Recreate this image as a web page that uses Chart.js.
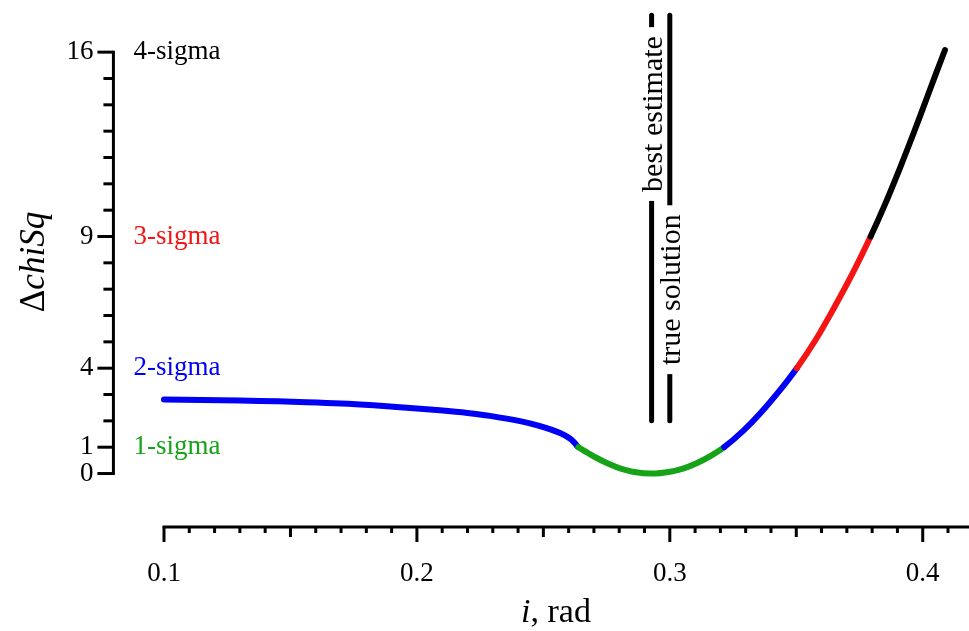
<!DOCTYPE html>
<html>
<head>
<meta charset="utf-8">
<title>Delta chiSq vs inclination</title>
<script src="https://cdn.jsdelivr.net/npm/chart.js@4.4.1/dist/chart.umd.min.js"></script>
<style>
    html, body { margin: 0; padding: 0; background: #fff; }
    #wrap { position: relative; width: 969px; height: 631px; }
</style>
</head>
<body>
<div id="wrap"><canvas id="chisq-chart"></canvas></div>
<script>
// Inclination grid (rad) and the chi-square difference along it
const inclination = [0.100, 0.115, 0.130, 0.145, 0.1564, 0.170, 0.1828, 0.196, 0.2091, 0.220,
    0.2289, 0.2408, 0.2487, 0.2566, 0.2605, 0.2625, 0.2638, 0.2675, 0.2711, 0.2760,
    0.2803, 0.2860, 0.2928, 0.3001, 0.3055, 0.3106, 0.3160, 0.3215, 0.3290,
    0.3357, 0.3430, 0.3502, 0.3575, 0.3647, 0.3720, 0.3794, 0.3850, 0.3910, 0.3965,
    0.4016, 0.4055, 0.4088];
const deltaChiSq = [2.81, 2.79, 2.77, 2.74, 2.71, 2.66, 2.59, 2.50, 2.40, 2.30,
    2.19, 1.99, 1.80, 1.54, 1.33, 1.15, 1.00, 0.79, 0.59, 0.36,
    0.20, 0.06, 0.00, 0.07, 0.20, 0.39, 0.66, 1.00, 1.62,
    2.28, 3.10, 4.00, 5.05, 6.25, 7.55, 9.00, 10.20, 11.60, 12.95,
    14.25, 15.25, 16.08];

// Confidence levels: threshold, label, colour
const sigmaLevels = [1, 4, 9, 16];
const sigmaLabels = ['1-sigma', '2-sigma', '3-sigma', '4-sigma'];
const sigmaColors = ['#17a317', '#0000f5', '#f51414', '#000000'];

// Vertical markers
const markerNames = ['best estimate', 'true solution'];
const markerX = [0.2928, 0.300];
const markerLow = [2.0, 2.0];
const markerHigh = [17.4, 17.4];

// Axis ticks
const yTickLabels = [0, 1, 4, 9, 16];
const xTickLabels = [0.1, 0.2, 0.3, 0.4];

document.addEventListener('DOMContentLoaded', function() {
    const SERIF = "'Liberation Serif', 'Times New Roman', serif";

    /**
     * Colour of a curve piece from the highest chi-square it reaches
     */
    function levelColor(v) {
        for (let i = 0; i < sigmaLevels.length; i++) {
            if (v <= sigmaLevels[i] + 1e-9) return sigmaColors[i];
        }
        return sigmaColors[sigmaColors.length - 1];
    }

    const curve = inclination.map((x, i) => ({ x: x, y: deltaChiSq[i] }));

    const markerSets = markerNames.map((name, i) => ({
        label: name,
        data: [{ x: markerX[i], y: markerLow[i] }, { x: markerX[i], y: markerHigh[i] }],
        borderColor: '#000',
        borderWidth: 5,
        borderCapStyle: 'round',
        pointRadius: 0,
        clip: false
    }));

    /**
     * Axes, tick labels, level labels and titles drawn on the scales
     */
    const decorPlugin = {
        id: 'decor',
        afterDatasetsDraw(chart) {
            const ctx = chart.ctx;
            const xs = chart.scales.x;
            const ys = chart.scales.y;
            // marker captions sit in a gap of their line
            const captionAt = [13.65, 6.98];
            ctx.save();
            ctx.font = '30px ' + SERIF;
            markerNames.forEach((name, i) => {
                const px = xs.getPixelForValue(markerX[i]);
                const py = ys.getPixelForValue(captionAt[i]);
                const w = ctx.measureText(name).width;
                ctx.save();
                ctx.translate(px, py);
                ctx.rotate(-Math.PI / 2);
                ctx.fillStyle = '#fff';
                ctx.fillRect(-w / 2 - 9, -8, w + 18, 16);
                ctx.fillStyle = '#000';
                ctx.textAlign = 'center';
                ctx.textBaseline = 'alphabetic';
                ctx.fillText(name, 0, 10);
                ctx.restore();
            });
            ctx.restore();
        },
        afterDraw(chart) {
            const ctx = chart.ctx;
            const xs = chart.scales.x;
            const ys = chart.scales.y;
            const area = chart.chartArea;
            ctx.save();
            ctx.strokeStyle = '#000';
            ctx.fillStyle = '#000';
            ctx.lineWidth = 3;
            ctx.lineCap = 'butt';

            // y axis sits left of the plotting area
            const ax = xs.getPixelForValue(0.08);
            const y0 = ys.getPixelForValue(0);
            const y16 = ys.getPixelForValue(16);
            ctx.beginPath();
            ctx.moveTo(ax, y0 + 1.5);
            ctx.lineTo(ax, y16 - 1.5);
            ctx.stroke();
            for (let v = 0; v <= 16; v++) {
                const py = ys.getPixelForValue(v);
                const len = yTickLabels.includes(v) ? 16 : 10;
                ctx.beginPath();
                ctx.moveTo(ax, py);
                ctx.lineTo(ax - len, py);
                ctx.stroke();
            }
            ctx.font = '27px ' + SERIF;
            ctx.textAlign = 'right';
            ctx.textBaseline = 'middle';
            yTickLabels.forEach(v => {
                ctx.fillText(String(v), ax - 20, ys.getPixelForValue(v));
            });

            // sigma level captions
            ctx.textAlign = 'left';
            sigmaLevels.forEach((v, i) => {
                ctx.fillStyle = sigmaColors[i];
                ctx.fillText(sigmaLabels[i], ax + 20, ys.getPixelForValue(v));
            });
            ctx.fillStyle = '#000';

            // x axis along the bottom
            const by = area.bottom;
            ctx.beginPath();
            ctx.moveTo(xs.getPixelForValue(0.1) - 1.5, by);
            ctx.lineTo(area.right, by);
            ctx.stroke();
            for (let k = 10; k <= 41; k++) {
                const px = xs.getPixelForValue(k / 100);
                const len = k % 10 === 0 ? 15 : (k % 5 === 0 ? 10 : 6);
                ctx.beginPath();
                ctx.moveTo(px, by);
                ctx.lineTo(px, by + len);
                ctx.stroke();
            }
            ctx.textAlign = 'center';
            ctx.textBaseline = 'alphabetic';
            xTickLabels.forEach(v => {
                ctx.fillText(v.toFixed(1), xs.getPixelForValue(v), by + 54);
            });

            // x title: italic i, upright rest
            const xt1 = 'i';
            const xt2 = ', rad';
            ctx.font = 'italic 34px ' + SERIF;
            const w1 = ctx.measureText(xt1).width;
            ctx.font = '34px ' + SERIF;
            const w2 = ctx.measureText(xt2).width;
            let sx = 556 - (w1 + w2) / 2;
            ctx.textAlign = 'left';
            ctx.font = 'italic 34px ' + SERIF;
            ctx.fillText(xt1, sx, 622);
            ctx.font = '34px ' + SERIF;
            ctx.fillText(xt2, sx + w1, 622);

            // y title: upright Delta, italic chiSq
            ctx.save();
            ctx.translate(44, 262);
            ctx.rotate(-Math.PI / 2);
            ctx.font = '35px ' + SERIF;
            const d1 = ctx.measureText('\u0394').width;
            ctx.font = 'italic 35px ' + SERIF;
            const d2 = ctx.measureText('chiSq').width;
            let tx = -(d1 + d2) / 2;
            ctx.font = '35px ' + SERIF;
            ctx.fillText('\u0394', tx, 0);
            ctx.font = 'italic 35px ' + SERIF;
            ctx.fillText('chiSq', tx + d1, 0);
            ctx.restore();

            ctx.restore();
        }
    };

    new Chart(document.getElementById('chisq-chart'), {
        type: 'line',
        data: {
            datasets: [{
                label: 'chiSq',
                data: curve,
                borderWidth: 6,
                borderCapStyle: 'round',
                borderJoinStyle: 'round',
                tension: 0.35,
                pointRadius: 0,
                clip: false,
                segment: {
                    borderColor: c => levelColor(Math.max(c.p0.parsed.y, c.p1.parsed.y))
                }
            }].concat(markerSets)
        },
        options: {
            responsive: true,
            maintainAspectRatio: false,
            animation: false,
            layout: { padding: { left: 164, right: 0, top: 10, bottom: 104 } },
            plugins: {
                legend: { display: false },
                tooltip: { enabled: false }
            },
            scales: {
                x: { type: 'linear', min: 0.1, max: 0.4183, display: false },
                y: { type: 'linear', min: -2.03, max: 17.6, display: false }
            }
        },
        plugins: [decorPlugin]
    });
});
</script>
</body>
</html>
